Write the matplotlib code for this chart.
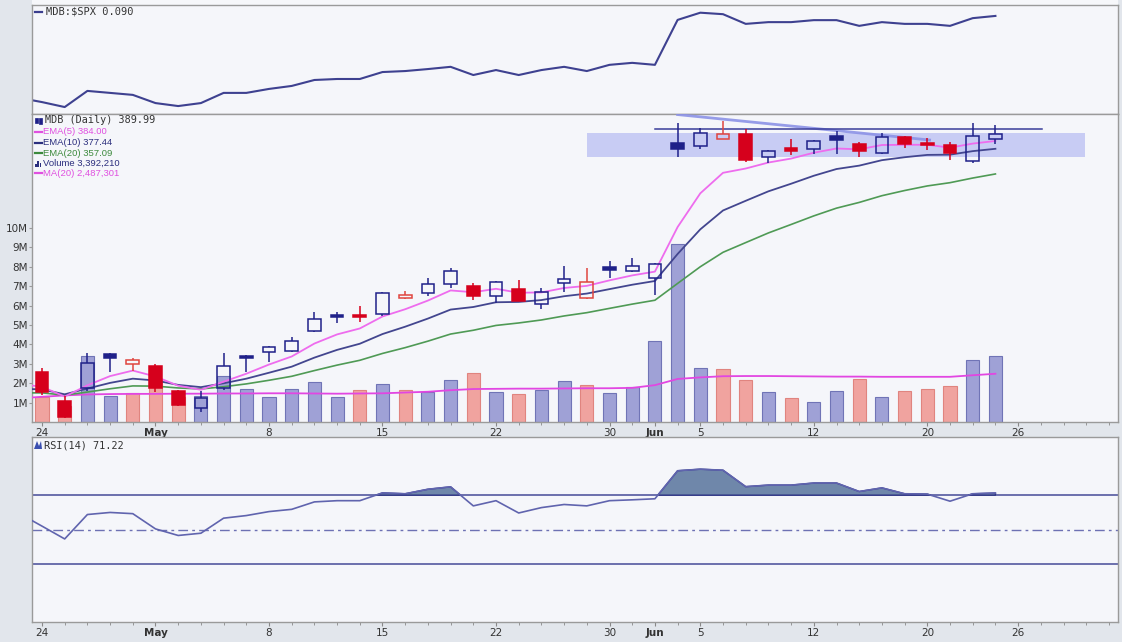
import numpy as np
import matplotlib.pyplot as plt
from matplotlib.patches import Rectangle, Polygon
from matplotlib.lines import Line2D
from matplotlib.ticker import NullLocator

W_PX, H_PX = 1122, 642

# trading days Apr 24 .. Jun 23 (index 0..42); the lines start one day earlier (index -1)
tick_pos = [0, 5, 10, 15, 20, 25, 27, 29, 34, 39, 43]
tick_labels = ["24", "May", "8", "15", "22", "30", "Jun", "5", "12", "20", "26"]
month_labels = {"May", "Jun"}

ratio_spx = [0.0570, 0.0553, 0.0533, 0.0598, 0.0590, 0.0582, 0.0549, 0.0537, 0.0549, 0.0590,
             0.0590, 0.0606, 0.0618, 0.0642, 0.0646, 0.0646, 0.0674, 0.0678, 0.0686, 0.0695,
             0.0662, 0.0682, 0.0662, 0.0682, 0.0695, 0.0678, 0.0703, 0.0711, 0.0703, 0.0884,
             0.0913, 0.0907, 0.0868, 0.0875, 0.0875, 0.0883, 0.0883, 0.0860, 0.0875, 0.0868,
             0.0868, 0.0860, 0.0891, 0.0900]

open_px = [231.0, 216.6, 222.7, 240.0, 235.0, 234.0, 221.4, 213.1, 222.7, 239.0,
           241.2, 241.8, 252.6, 261.6, 261.5, 262.3, 271.5, 274.6, 280.1, 279.0,
           272.9, 277.0, 268.0, 281.0, 271.9, 291.1, 288.6, 283.8, 382.0, 380.0,
           386.0, 389.7, 370.9, 377.9, 377.1, 388.3, 381.4, 373.7, 387.7, 381.9,
           380.6, 367.5, 385.3]
high_px = [232.7, 219.0, 240.7, 240.7, 238.1, 234.8, 222.1, 221.4, 240.6, 239.5,
           244.5, 249.1, 263.6, 263.6, 267.1, 275.6, 276.2, 283.8, 290.1, 280.6,
           281.8, 282.7, 277.6, 291.6, 290.1, 295.0, 296.6, 293.4, 399.8, 394.9,
           401.6, 394.3, 376.5, 385.6, 385.0, 392.8, 383.4, 390.5, 388.3, 386.3,
           383.4, 399.1, 397.8]
low_px = [219.3, 208.6, 221.4, 230.9, 231.4, 220.9, 214.2, 211.6, 222.1, 231.1,
          236.1, 241.5, 252.2, 257.0, 257.9, 261.4, 271.4, 272.9, 277.6, 270.5,
          268.9, 269.9, 265.0, 275.2, 270.9, 283.8, 287.5, 273.8, 370.9, 377.1,
          386.0, 366.9, 366.1, 372.3, 373.1, 372.9, 370.5, 372.9, 377.9, 376.5,
          368.3, 365.6, 381.4]
close_px = [220.9, 209.2, 235.3, 238.0, 237.1, 222.7, 214.7, 218.1, 234.0, 238.0,
            244.1, 247.3, 259.5, 260.8, 260.6, 274.6, 273.6, 280.3, 288.4, 273.1,
            281.6, 270.1, 275.6, 283.3, 281.6, 289.3, 291.8, 292.7, 377.1, 391.1,
            389.7, 368.3, 375.9, 375.7, 383.7, 384.8, 375.7, 387.7, 381.2, 380.9,
            373.7, 388.5, 389.99]
close_before = 225.0

volume_m = [1.30, 0.80, 3.38, 1.34, 1.51, 2.20, 1.30, 1.34, 2.37, 1.72,
            1.27, 1.69, 2.08, 1.27, 1.66, 1.94, 1.66, 1.53, 2.18, 2.54,
            1.56, 1.44, 1.66, 2.13, 1.89, 1.48, 1.82, 4.19, 9.20, 2.80,
            2.73, 2.16, 1.56, 1.22, 1.05, 1.61, 2.23, 1.27, 1.58, 1.69,
            1.87, 3.20, 3.39221]
vol_ma20_m = [1.22, 1.30, 1.37, 1.42, 1.44, 1.45, 1.45, 1.46, 1.46, 1.47,
              1.47, 1.48, 1.48, 1.47, 1.46, 1.47, 1.48, 1.52, 1.56, 1.64,
              1.70, 1.71, 1.72, 1.72, 1.73, 1.74, 1.74, 1.76, 1.90, 2.22,
              2.30, 2.36, 2.37, 2.37, 2.36, 2.35, 2.34, 2.34, 2.33, 2.33,
              2.33, 2.33, 2.41, 2.487301]

ema5 = [224.8, 223.5, 218.7, 224.2, 228.8, 231.6, 228.6, 224.0, 222.0, 226.0,
        230.0, 234.7, 238.9, 245.8, 250.8, 254.1, 260.9, 265.1, 270.2, 276.3,
        275.2, 277.3, 274.9, 275.1, 277.8, 279.1, 282.5, 285.6, 288.0, 317.7,
        342.2, 358.0, 361.4, 366.2, 369.4, 374.2, 377.7, 377.0, 380.6, 380.8,
        380.8, 378.4, 381.8, 384.00]
ema10 = [222.5, 222.2, 219.8, 222.6, 225.4, 227.5, 226.6, 224.4, 223.3, 225.2,
         227.5, 230.5, 233.6, 238.3, 242.4, 245.7, 251.0, 255.1, 259.7, 264.9,
         266.4, 269.2, 269.4, 270.5, 272.8, 274.4, 277.1, 279.8, 282.1, 299.4,
         316.1, 329.5, 336.6, 343.7, 349.5, 355.7, 361.0, 363.7, 368.1, 370.5,
         372.4, 372.6, 375.5, 377.44]
ema20 = [220.5, 220.5, 219.4, 220.9, 222.5, 223.9, 223.8, 222.9, 222.4, 223.5,
         224.9, 226.7, 228.7, 231.6, 234.4, 236.9, 240.5, 243.6, 247.1, 251.0,
         253.1, 255.8, 257.2, 258.9, 261.2, 263.1, 265.6, 268.1, 270.4, 280.6,
         291.1, 300.5, 307.0, 313.6, 319.5, 325.6, 331.2, 335.4, 340.4, 344.3,
         347.8, 350.3, 353.9, 357.09]

rsi14 = [59.4, 52.1, 44.7, 58.8, 60.0, 59.3, 50.5, 46.7, 48.0, 56.7,
         58.2, 60.5, 61.8, 66.1, 66.8, 66.8, 71.3, 70.8, 73.4, 74.8,
         63.8, 66.8, 59.7, 62.8, 64.6, 63.8, 66.8, 67.3, 67.9, 84.1,
         85.0, 84.4, 74.9, 75.8, 75.8, 77.0, 77.0, 72.1, 74.2, 70.8,
         70.6, 66.5, 70.8, 71.22]

# annotations drawn on the price panel
zone_days = (24.0, 45.95)
zone_prices = (370.3, 390.4)
resist_days = (27.0, 44.05)
resist_price = 394.3
slope_days = (28.0, 39.1)
slope_prices = (407.0, 384.8)

NAVY = "#1f2189"
RED = "#d6001c"
BG = "#f5f6fa"
SPINE = "#9a9a9a"
TXT = "#333333"


def fx(px):
    return px / W_PX


def fy(py):
    return 1 - py / H_PX


fig = plt.figure(figsize=(W_PX / 100, H_PX / 100), dpi=100)
fig.patch.set_facecolor("#e2e6ec")

left, width = fx(32), (1118 - 32) / W_PX
ax_top = fig.add_axes([left, fy(114), width, 109 / H_PX])
ax_vol = fig.add_axes([left, fy(422), width, 308 / H_PX])
ax_rsi = fig.add_axes([left, fy(622), width, 185 / H_PX])

fig.add_artist(Rectangle((left, fy(5)), width, 5 / H_PX, transform=fig.transFigure,
                         facecolor="#f6f7fa", edgecolor="none", zorder=-1))

days = np.arange(len(close_px))
x_line = np.arange(-1, len(close_px))
xlim = (-0.44, 47.4)

for ax in (ax_top, ax_vol, ax_rsi):
    ax.set_facecolor(BG)
    ax.set_xlim(*xlim)
    for sp in ax.spines.values():
        sp.set_color(SPINE)
        sp.set_linewidth(1.0)

# ---- ratio panel
ax_top.plot(x_line, ratio_spx, color="#3e4190", lw=1.5)
ax_top.set_ylim(0.0505, 0.0944)
ax_top.set_xticks([])
ax_top.set_yticks([])

# ---- volume + price panel
o = np.array(open_px)
h = np.array(high_px)
l = np.array(low_px)
c = np.array(close_px)
prev = np.r_[close_before, c[:-1]]
up = c >= prev

ax_vol.bar(days, volume_m, width=0.58,
           color=np.where(up, "#9fa1d6", "#f0a39f"),
           edgecolor=np.where(up, "#7074b6", "#e0847f"), linewidth=0.8, zorder=2)
ax_vol.plot(x_line, vol_ma20_m, color="#e246e2", lw=1.3, zorder=3)
ax_vol.set_ylim(0, 15.88)
ax_vol.set_yticks(np.arange(1, 11))
ax_vol.set_yticklabels([f"{v}M" for v in range(1, 11)])
ax_vol.tick_params(axis="y", labelsize=7.5, length=2, pad=1, colors=TXT, color=SPINE)

ax_px = ax_vol.twinx()
ax_px.set_yscale("log")
ax_px.set_ylim(206.8, 407.5)
ax_px.yaxis.set_major_locator(NullLocator())
ax_px.yaxis.set_minor_locator(NullLocator())
for sp in ax_px.spines.values():
    sp.set_visible(False)

ax_px.add_patch(Rectangle((zone_days[0], zone_prices[0]), zone_days[1] - zone_days[0],
                          zone_prices[1] - zone_prices[0], facecolor="#c4c8f4",
                          edgecolor="none", alpha=0.9, zorder=1))
ax_px.plot(slope_days, slope_prices, color="#8c92e6", lw=2.0, alpha=0.9, zorder=2)
ax_px.plot(resist_days, [resist_price] * 2, color="#3a3e9a", lw=1.1, zorder=2)

ax_px.plot(x_line, ema20, color="#4f9a55", lw=1.2, zorder=3)
ax_px.plot(x_line, ema10, color="#43468f", lw=1.3, zorder=3)
ax_px.plot(x_line, ema5, color="#ee6cee", lw=1.3, zorder=3)

for d in days:
    col = NAVY if up[d] else RED
    top, bot = max(o[d], c[d]), min(o[d], c[d])
    filled = c[d] < o[d]
    edge = col if (filled or up[d]) else "#e0453f"
    ax_px.vlines(d, top, h[d], color=edge, lw=1.1, zorder=4)
    ax_px.vlines(d, l[d], bot, color=edge, lw=1.1, zorder=4)
    ax_px.bar(d, top - bot, width=0.56, bottom=bot,
              facecolor=col if filled else "none", edgecolor=edge,
              linewidth=1.1, zorder=5)

# ---- RSI panel
r = np.array(rsi14)
ax_rsi.axhline(70, color="#454a98", lw=1.1, zorder=2)
ax_rsi.axhline(30, color="#454a98", lw=1.1, zorder=2)
ax_rsi.axhline(50, color="#6d71b3", lw=1.0, dashes=(7, 3, 2, 3), zorder=2)
ax_rsi.fill_between(x_line, r, 70, where=r >= 70, interpolate=True,
                    facecolor="#6f87aa", edgecolor="#2f3584", linewidth=1.0, zorder=3)
ax_rsi.plot(x_line, r, color="#6064ae", lw=1.2, zorder=4)
ax_rsi.set_ylim(-3.3, 103.6)
ax_rsi.set_yticks([])

for ax in (ax_vol, ax_rsi):
    ax.set_xticks(tick_pos)
    ax.set_xticklabels(tick_labels)
    ax.set_xticks(np.arange(0, 48), minor=True)
    ax.tick_params(axis="x", which="major", length=3, pad=1, labelsize=7.5,
                   colors=TXT, color="#888888")
    ax.tick_params(axis="x", which="minor", length=2, color="#888888")
    for lbl in ax.get_xticklabels():
        if lbl.get_text() in month_labels:
            lbl.set_fontweight("bold")

# ---- panel legends
mono = "DejaVu Sans Mono"
sans = "Liberation Sans"


def marker(y, color):
    fig.add_artist(Line2D([fx(35), fx(42)], [fy(y)] * 2, color=color, lw=1.6))


marker(12, "#3b3e8e")
fig.text(fx(46), fy(12), f"MDB:$SPX {ratio_spx[-1]:.3f}", family=mono, size=7.5,
         color=TXT, va="center")

# small candle icon
fig.add_artist(Rectangle((fx(35), fy(123)), 2.5 / W_PX, 5 / H_PX, transform=fig.transFigure,
                         facecolor=NAVY, edgecolor=NAVY, lw=0.5))
fig.add_artist(Rectangle((fx(39), fy(124)), 2.5 / W_PX, 6 / H_PX, transform=fig.transFigure,
                         facecolor=NAVY, edgecolor=NAVY, lw=0.5))
fig.text(fx(45), fy(120), f"MDB (Daily) {close_px[-1]:.2f}", family=mono, size=7.3,
         color=TXT, va="center")

legend_rows = [
    (131.5, "#e050e0", f"EMA(5) {ema5[-1]:.2f}"),
    (142.5, "#2c2f7e", f"EMA(10) {ema10[-1]:.2f}"),
    (153.0, "#3d8a3d", f"EMA(20) {ema20[-1]:.2f}"),
    (163.5, "#2c2f7e", f"Volume {volume_m[-1] * 1e6:,.0f}"),
    (173.5, "#e050e0", f"MA(20) {vol_ma20_m[-1] * 1e6:,.0f}"),
]
for y, colr, label in legend_rows:
    if label.startswith("Volume"):
        for k, hgt in enumerate((3, 6, 4)):
            fig.add_artist(Rectangle((fx(35 + 2.3 * k), fy(y + 3.5)), 1.8 / W_PX, hgt / H_PX,
                                     transform=fig.transFigure, facecolor=colr,
                                     edgecolor="none"))
    else:
        marker(y, colr)
    fig.text(fx(43), fy(y), label, family=sans, size=6.8, color=colr, va="center")

# RSI icon
fig.add_artist(Polygon([(fx(34), fy(449)), (fx(37), fy(441)), (fx(39), fy(446)),
                        (fx(41), fy(441)), (fx(42), fy(449))], closed=True,
                       transform=fig.transFigure, facecolor="#3a4fb0", edgecolor="none"))
fig.text(fx(44), fy(445), f"RSI(14) {rsi14[-1]:.2f}", family=mono, size=7.4,
         color=TXT, va="center")

fig.savefig("out.png", dpi=100, facecolor=fig.get_facecolor())
